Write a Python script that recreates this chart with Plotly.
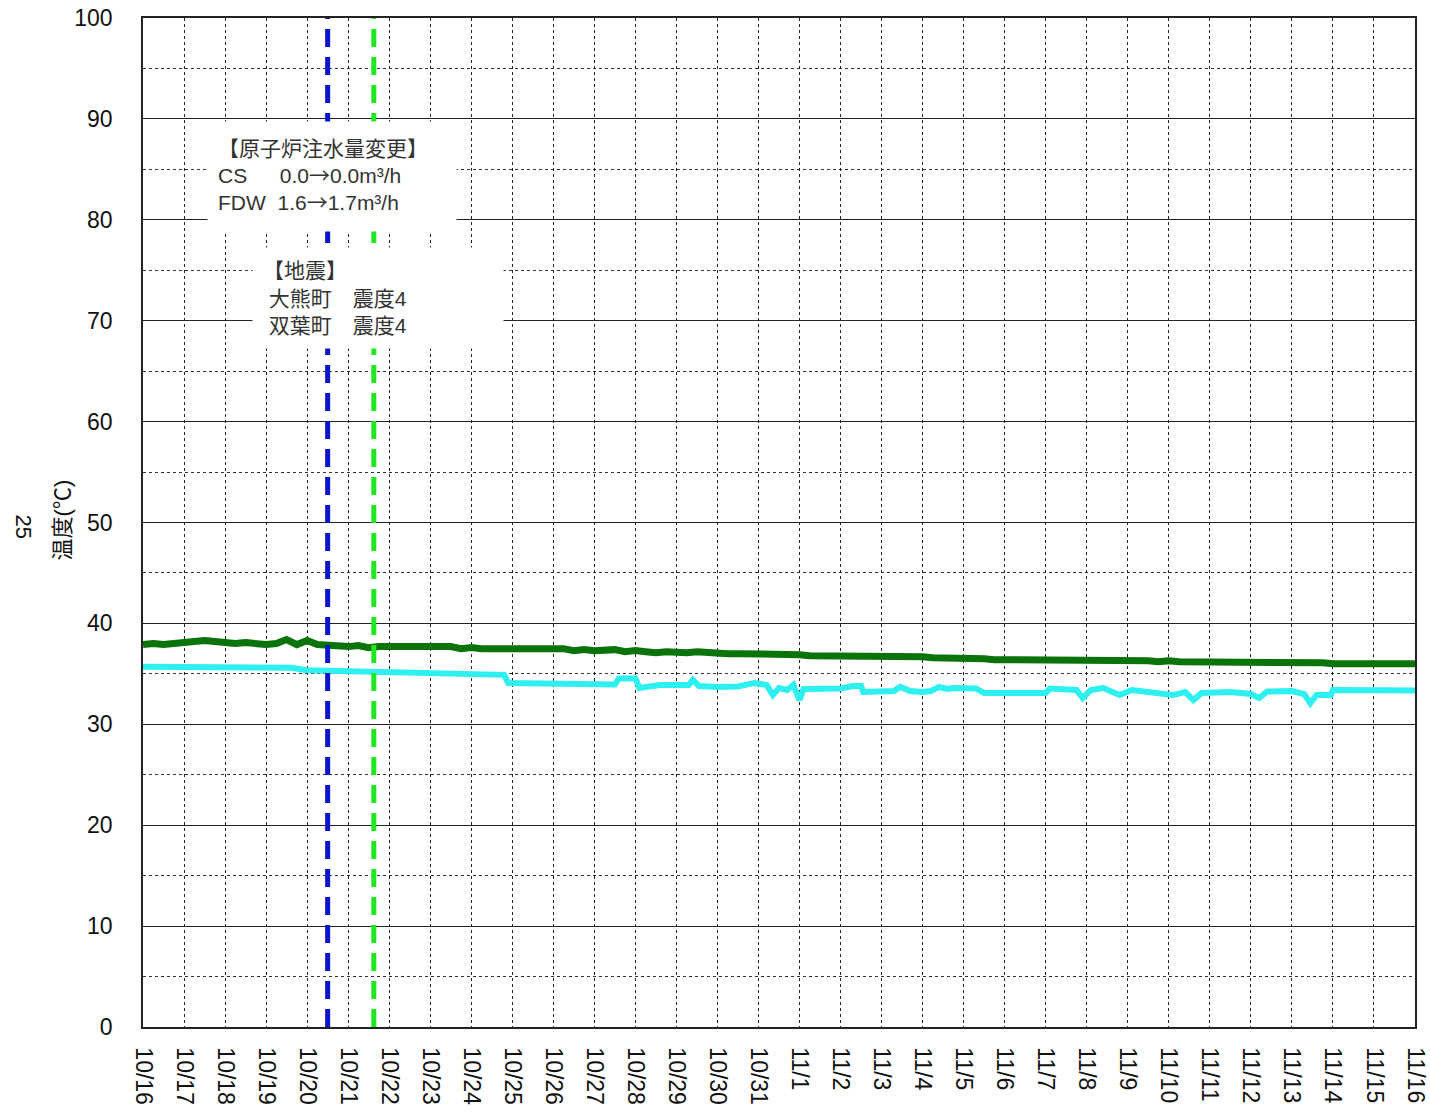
import pandas as pd
import plotly.graph_objects as go

BASE = "2014-10-16"

# green series: one value every 6 hours from 10/16 00:00 to 11/16 00:00
green_step_days = 0.25
green_vals = [
    37.9, 38.0, 37.9, 38.0,
    38.1, 38.2, 38.3, 38.2,
    38.1, 38.0, 38.1, 38.0,
    37.9, 38.0, 38.4, 37.9,
    38.3, 37.9, 37.8, 37.8,
    37.7, 37.8, 37.6, 37.7,
    37.7, 37.7, 37.6, 37.7,
    37.6, 37.6, 37.7, 37.5,
    37.6, 37.5, 37.5, 37.5,
    37.5, 37.4, 37.5, 37.4,
    37.4, 37.5, 37.3, 37.4,
    37.3, 37.3, 37.4, 37.2,
    37.3, 37.2, 37.1, 37.2,
    37.1, 37.1, 37.2, 37.1,
    37.0, 37.0, 37.0, 37.0,
    36.9, 36.9, 36.9, 36.9,
    36.9, 36.8, 36.8, 36.7,
    36.7, 36.7, 36.7, 36.7,
    36.7, 36.7, 36.7, 36.7,
    36.7, 36.6, 36.6, 36.5,
    36.5, 36.5, 36.5, 36.4,
    36.4, 36.4, 36.4, 36.4,
    36.4, 36.4, 36.4, 36.4,
    36.4, 36.4, 36.4, 36.4,
    36.3, 36.3, 36.3, 36.2,
    36.3, 36.2, 36.2, 36.2,
    36.2, 36.2, 36.2, 36.2,
    36.2, 36.2, 36.2, 36.2,
    36.2, 36.2, 36.2, 36.1,
    36.0, 36.0, 36.0, 36.0,
    36.0, 36.0, 35.9, 36.0,
    36.0,
]

# cyan series: (day offset from 10/16 00:00, value)
cyan_days = [0, 2, 3.6, 4.0, 6.5, 8.0, 8.8, 8.9, 10.5, 11.5, 11.6, 12.0, 12.1, 12.6,
             13.3, 13.4, 13.55, 14.0, 14.5, 14.9, 15.2, 15.35, 15.5, 15.7, 15.85, 16.0,
             16.1, 17.0, 17.3, 17.5, 17.55, 18.3, 18.45, 18.7, 19.0, 19.2, 19.4, 19.6,
             19.75, 20.3, 20.5, 22.0, 22.1, 22.5, 22.75, 22.9, 23.1, 23.4, 23.8, 24.1,
             24.6, 25.1, 25.4, 25.6, 25.8, 26.5, 27.0, 27.2, 27.4, 28.0, 28.3, 28.45,
             28.6, 28.95, 29.0, 30.0, 31.0]
cyan_vals = [35.7, 35.6, 35.6, 35.35, 35.1, 35.0, 34.9, 34.1, 34.0, 33.95, 34.55, 34.55, 33.6, 33.9,
             33.9, 34.4, 33.8, 33.7, 33.75, 34.1, 33.9, 32.9, 33.6, 33.4, 33.9, 32.4,
             33.5, 33.55, 33.8, 33.8, 33.2, 33.3, 33.7, 33.3, 33.2, 33.3, 33.7, 33.5,
             33.6, 33.55, 33.1, 33.1, 33.55, 33.5, 33.4, 32.6, 33.4, 33.6, 32.9, 33.4,
             33.1, 32.9, 33.2, 32.4, 33.1, 33.2, 33.0, 32.6, 33.25, 33.3, 33.0, 32.1,
             32.9, 32.9, 33.4, 33.35, 33.35]

# event markers
event_times = ["2014-10-20 12:00", "2014-10-21 15:00"]
event_colors = ["#0a14c8", "#22e622"]

ARROW = '<span style="font-family:Noto Sans CJK JP">→</span>'
box1_lines = ["【原子炉注水量変更】",
              "CS\u3000\u00a0\u00a00.0" + ARROW + "0.0m³/h",
              "FDW\u00a0\u00a01.6" + ARROW + "1.7m³/h"]
box2_lines = ["【地震】", "\u00a0大熊町\u3000震度4", "\u00a0双葉町\u3000震度4"]

y_title = "温度(℃)"
side_label = "25"

base = pd.Timestamp(BASE)
green_x = [base + pd.Timedelta(days=i * green_step_days) for i in range(len(green_vals))]
cyan_x = [base + pd.Timedelta(days=d) for d in cyan_days]

FONT = "Liberation Sans, Arial, Noto Sans CJK JP, sans-serif"

fig = go.Figure()
fig.add_trace(go.Scatter(x=green_x, y=green_vals, mode="lines",
                         line=dict(color="#0a730a", width=7), showlegend=False))
fig.add_trace(go.Scatter(x=cyan_x, y=cyan_vals, mode="lines",
                         line=dict(color="#2ef0f0", width=6, shape="linear"), showlegend=False))
for t, c in zip(event_times, event_colors):
    fig.add_trace(go.Scatter(x=[t, t], y=[0, 100], mode="lines",
                             line=dict(color=c, width=5, dash="18px,10px"), showlegend=False))

annos = [
    dict(text="<br>".join(box1_lines), xref="paper", yref="paper", x=0.0503, y=0.8979,
         xanchor="left", yanchor="top", align="left", showarrow=False, bgcolor="white",
         borderpad=10, width=228, height=89, font=dict(size=21, color="#333", family=FONT)),
    dict(text="<br>".join(box2_lines), xref="paper", yref="paper", x=0.0857, y=0.7730,
         xanchor="left", yanchor="top", align="left", showarrow=False, bgcolor="white",
         borderpad=10, width=230, height=80, font=dict(size=21, color="#333", family=FONT)),
    dict(text=y_title, xref="paper", yref="paper", x=-0.0637, y=0.503, textangle=-90,
         xanchor="center", yanchor="middle",
         showarrow=False, font=dict(size=22, color="#111", family=FONT)),
    dict(text=side_label, xref="paper", yref="paper", x=-0.0943, y=0.496, textangle=90,
         xanchor="center", yanchor="middle",
         showarrow=False, font=dict(size=22, color="#111", family=FONT)),
]

fig.update_layout(
    width=1430, height=1115,
    margin=dict(l=143, r=15, t=18, b=88, autoexpand=False),
    paper_bgcolor="white", plot_bgcolor="white",
    font=dict(family=FONT, size=22, color="#111"),
    annotations=annos,
)
fig.update_xaxes(
    type="date", range=["2014-10-16", "2014-11-16"], automargin=False,
    dtick=86400000, tick0="2014-10-16", tickformat="%-m/%-d", tickangle=90,
    showgrid=True, gridcolor="#222", gridwidth=1, griddash="dot",
    showline=True, linecolor="#222", linewidth=1.5, mirror=True,
    ticks="", ticklabelstandoff=14, tickfont=dict(size=23), zeroline=False,
)
fig.update_yaxes(
    range=[0, 100], dtick=10, tick0=0, automargin=False,
    showgrid=True, gridcolor="#222", gridwidth=1,
    minor=dict(dtick=5, showgrid=True, gridcolor="#333", griddash="dot", gridwidth=1),
    showline=True, linecolor="#222", linewidth=1.5, mirror=True,
    ticks="", ticklabelstandoff=24, tickfont=dict(size=23), zeroline=False,
)

fig.write_html("out.html", config={"displayModeBar": False},
               post_script="document.body.style.margin='0';")
